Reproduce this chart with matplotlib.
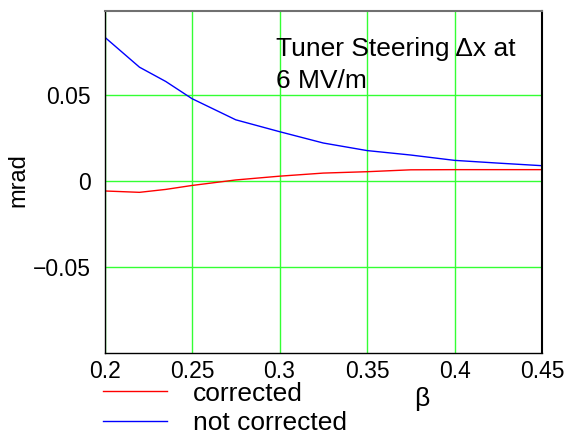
import matplotlib
matplotlib.use('Agg')
import matplotlib.pyplot as plt

plt.rcParams['font.family'] = ['Liberation Sans', 'DejaVu Sans']

beta = [0.2, 0.22, 0.235, 0.25, 0.275, 0.3, 0.325, 0.35, 0.375, 0.4, 0.425, 0.45]
corrected = [-0.0059, -0.0067, -0.0050, -0.0027, 0.0005, 0.0027, 0.0045,
             0.0053, 0.0064, 0.0065, 0.0065, 0.0065]
not_corrected = [0.0837, 0.0661, 0.0578, 0.0478, 0.0355, 0.0286, 0.0220,
                 0.0176, 0.0150, 0.0119, 0.0103, 0.0088]
xticks = [0.2, 0.25, 0.3, 0.35, 0.4, 0.45]
xtick_labels = ['0.2', '0.25', '0.3', '0.35', '0.4', '0.45']
yticks = [-0.05, 0, 0.05]
ytick_labels = ['\u22120.05', '0', '0.05']

W, H = 568, 436
fig = plt.figure(figsize=(W / 100, H / 100), dpi=100)
ax = fig.add_axes([104.5 / W, 1 - 352.7 / H, 437.5 / W, 341.7 / H])

ax.plot(beta, corrected, color='#ff0000', lw=1, label='corrected')
ax.plot(beta, not_corrected, color='#0000ff', lw=1, label='not corrected')

ax.set_xlim(0.2, 0.45)
ax.set_ylim(-0.1, 0.0988)
ax.set_xticks(xticks)
ax.set_xticklabels(xtick_labels)
ax.set_yticks(yticks)
ax.set_yticklabels(ytick_labels)
ax.tick_params(length=0, labelsize=16.5)
ax.tick_params(axis='x', pad=5)
ax.tick_params(axis='y', pad=10)
ax.grid(True, color='#33ff33', lw=1)
ax.set_axisbelow(True)

for side in ['left', 'bottom', 'right']:
    ax.spines[side].set_color('black')
    ax.spines[side].set_linewidth(1)
ax.spines['right'].set_linewidth(1.5)
ax.spines['top'].set_color('#707070')
ax.spines['top'].set_linewidth(1.5)

fig.text(18.5 / W, 1 - 180.5 / H, 'mrad', rotation=90, fontsize=17,
         ha='center', va='center')
ax.text(0.392, 0.843, 'Tuner Steering \u0394x at\n6 MV/m', transform=ax.transAxes,
        fontsize=19, va='center', ha='left', linespacing=1.42)

fig.text(422 / W, 1 - 399 / H, '\u03b2', fontsize=19, ha='center', va='center')
fig.legend(*ax.get_legend_handles_labels(), loc='center left',
           bbox_to_anchor=(103 / W, 1 - 408.5 / H), frameon=False,
           fontsize=19, handlelength=2.42, handletextpad=0.98, labelspacing=0.22,
           borderaxespad=0, borderpad=0)

fig.savefig('out.png', dpi=100)
